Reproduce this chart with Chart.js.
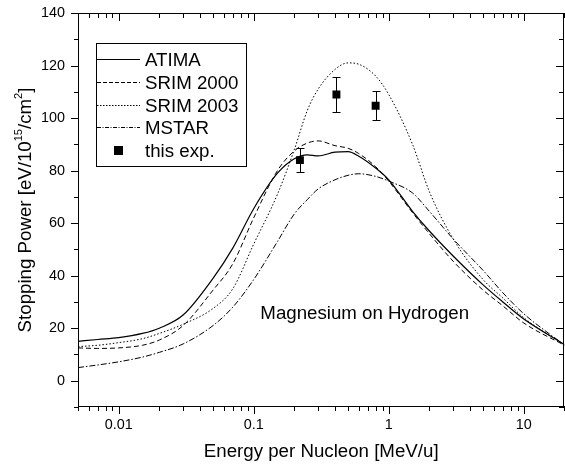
<!DOCTYPE html>
<html>
<head>
<meta charset="utf-8">
<script src="https://cdn.jsdelivr.net/npm/chart.js@4.4.1/dist/chart.umd.min.js"></script>
<style>
  html, body { margin: 0; padding: 0; background: #fff; overflow: hidden; }
  #wrap { width: 570px; height: 468px; }
</style>
</head>
<body>
<div id="wrap"><canvas id="chart" width="570" height="468"></canvas></div>
<script>
// energy grid [MeV/u] shared by the calculated curves
const energy   = [0.005, 0.007, 0.01, 0.015, 0.02, 0.03, 0.05, 0.07, 0.1, 0.15, 0.2, 0.25, 0.3, 0.4, 0.5, 0.6, 0.8, 1, 1.5, 2, 3, 5, 7, 10, 20];
const atima    = [15, 15.7, 16.4, 18, 20, 25, 39, 50.5, 65.5, 79, 84.5, 86, 85.6, 87, 87.2, 85.5, 81, 76.5, 64.5, 57, 47.5, 36.5, 30, 23.5, 13.8];
const srim2000 = [12.5, 12.3, 12.5, 13.5, 15.5, 21, 34.5, 44.5, 62, 80, 87.5, 90.5, 91.3, 89.5, 88.5, 86.5, 81.5, 76, 64, 56, 45.5, 34.5, 28.5, 22, 13.5];
const srim2003 = [13, 13.5, 14.5, 16, 18, 21.5, 27.5, 35, 52, 71, 88, 103, 111, 118.5, 121, 120.5, 116, 109, 90, 72, 54, 38.5, 31.5, 24, 13.6];
const mstar    = [5, 6, 7.2, 9, 10.8, 14, 21, 28, 38.5, 53, 63.5, 69, 73, 76.5, 78.2, 78.8, 77.8, 76, 71.5, 64.5, 54, 42, 33.5, 25.5, 13.6];

// measured points
const expEnergy = [0.22, 0.41, 0.8];
const expValue  = [84, 109, 104.7];
const expError  = [4.5, 6.5, 5.5];

const xTickLabels = [0.01, 0.1, 1, 10];
const yTickLabels = [0, 20, 40, 60, 80, 100, 120, 140];

const FONT = '"Liberation Sans", Arial, Helvetica, sans-serif';
const TEXT_SIZE = 18.7;
const toXY = (xs, ys) => xs.map((x, i) => ({x: x, y: ys[i]}));

const curve = (label, ys, dash, legendDash, width) => ({
  label: label,
  data: toXY(energy, ys),
  borderColor: '#000',
  borderWidth: width || 1,
  borderDash: dash,
  legendDash: legendDash,
  pointRadius: 0,
  fill: false,
  cubicInterpolationMode: 'monotone'
});

// frame + minor/major tick marks on all four sides (drawn as 1px rectangles)
const framePlugin = {
  id: 'frame',
  afterDraw(chart) {
    const {ctx, chartArea: a, scales: {x, y}} = chart;
    ctx.save();
    ctx.fillStyle = '#000';
    const L = Math.round(a.left), R = Math.round(a.right) - 1;
    const T = Math.round(a.top), B = Math.round(a.bottom) - 1;
    ctx.fillRect(L, T, R - L + 1, 1);
    ctx.fillRect(L, B, R - L + 1, 1);
    ctx.fillRect(L, T, 1, B - T + 1);
    ctx.fillRect(R, T, 1, B - T + 1);
    // x ticks
    for (let e = -3; e <= 2; e++) {
      for (let k = 1; k <= 9; k++) {
        const v = k * Math.pow(10, e);
        if (v < x.min * 0.999 || v > x.max * 1.001) continue;
        const px = Math.round(x.getPixelForValue(v));
        const len = k === 1 ? 7 : 4;
        ctx.fillRect(px, B, 1, len + 1);
        ctx.fillRect(px, T, 1, len + 1);
      }
    }
    // y ticks
    for (let v = y.min; v <= y.max; v += 10) {
      const py = Math.round(y.getPixelForValue(v));
      const len = yTickLabels.includes(v) ? 7 : 4;
      ctx.fillRect(L - len, py, len + 1, 1);
      ctx.fillRect(R - len, py, len + 1, 1);
    }
    ctx.restore();
  }
};

// error bars for the measured points
const errorBars = {
  id: 'errorBars',
  afterDatasetsDraw(chart) {
    const {ctx, scales: {x, y}} = chart;
    ctx.save();
    ctx.setLineDash([]);
    ctx.strokeStyle = '#000';
    ctx.lineWidth = 1;
    ctx.beginPath();
    expEnergy.forEach((e, i) => {
      const px = Math.round(x.getPixelForValue(e)) + 0.5;
      const top = Math.round(y.getPixelForValue(expValue[i] + expError[i])) + 0.5;
      const bot = Math.round(y.getPixelForValue(expValue[i] - expError[i])) + 0.5;
      ctx.moveTo(px, top); ctx.lineTo(px, bot);
      ctx.moveTo(px - 4, top); ctx.lineTo(px + 4, top);
      ctx.moveTo(px - 4, bot); ctx.lineTo(px + 4, bot);
    });
    ctx.stroke();
    ctx.restore();
  }
};

// boxed legend, y title with superscripts, and the in-plot label
const decorations = {
  id: 'decorations',
  afterDraw(chart) {
    const {ctx, scales: {x, y}} = chart;
    ctx.save();
    ctx.setLineDash([]);
    ctx.fillStyle = '#000';
    ctx.strokeStyle = '#000';

    // legend box
    ctx.fillRect(96, 43, 151, 1);
    ctx.fillRect(96, 166, 151, 1);
    ctx.fillRect(96, 43, 1, 124);
    ctx.fillRect(246, 43, 1, 124);
    ctx.font = TEXT_SIZE + 'px ' + FONT;
    ctx.textBaseline = 'middle';
    ctx.textAlign = 'left';
    chart.data.datasets.forEach((ds, i) => {
      const cy = Math.round(59 + i * 22.75) + 0.5;
      if (ds.showLine === false) {
        ctx.fillRect(114, cy - 4.5, 9, 9);
      } else {
        ctx.save();
        ctx.setLineDash(ds.legendDash || []);
        ctx.lineWidth = ds.borderWidth;
        ctx.beginPath();
        ctx.moveTo(97, cy); ctx.lineTo(140, cy);
        ctx.stroke();
        ctx.restore();
      }
      ctx.fillText(ds.label, 145, cy + 1);
    });

    // annotation
    ctx.fillText('Magnesium on Hydrogen', x.getPixelForValue(0.112), y.getPixelForValue(25.5));

    // y axis title, rotated
    ctx.translate(25, 210);
    ctx.rotate(-Math.PI / 2);
    const parts = [
      ['Stopping Power [eV/10', false], ['15', true], ['/cm', false], ['2', true], [']', false]
    ];
    const big = TEXT_SIZE + 'px ' + FONT, small = '11px ' + FONT;
    let total = 0;
    parts.forEach(p => { ctx.font = p[1] ? small : big; total += ctx.measureText(p[0]).width; });
    let cx = -total / 2;
    parts.forEach(p => {
      ctx.font = p[1] ? small : big;
      ctx.fillText(p[0], cx, p[1] ? -6 : 1);
      cx += ctx.measureText(p[0]).width;
    });
    ctx.restore();
  }
};

new Chart(document.getElementById('chart'), {
  type: 'line',
  data: {
    datasets: [
      curve('ATIMA', atima, [], [], 1.2),
      curve('SRIM 2000', srim2000, [5, 3], [4, 2]),
      curve('SRIM 2003', srim2003, [1.5, 2], [1.5, 1.5]),
      curve('MSTAR', mstar, [6, 2, 1.5, 2], [4, 1.5, 1, 1.5]),
      {
        label: 'this exp.',
        data: toXY(expEnergy, expValue),
        showLine: false,
        pointStyle: 'rect',
        pointRadius: 5.6,
        pointBackgroundColor: '#000',
        pointBorderColor: '#000',
        pointBorderWidth: 0
      }
    ]
  },
  options: {
    responsive: false,
    animation: false,
    devicePixelRatio: 1,
    layout: { padding: { top: 13, right: 3, left: 0, bottom: 0 } },
    plugins: { legend: { display: false }, tooltip: { enabled: false } },
    scales: {
      x: {
        type: 'logarithmic',
        position: 'bottom',
        min: 0.005,
        max: 20,
        afterFit: s => { s.height = 61; s.paddingLeft = 0; s.paddingRight = 0; },
        grid: { display: false, drawTicks: false },
        border: { display: false },
        ticks: {
          autoSkip: false,
          maxRotation: 0,
          padding: 9,
          color: '#000',
          font: { family: FONT, size: 14.4 },
          callback: v => xTickLabels.some(t => Math.abs(t - v) / t < 1e-6) ? String(+v.toPrecision(6)) : ''
        },
        title: {
          display: true,
          text: 'Energy per Nucleon [MeV/u]',
          color: '#000',
          font: { family: FONT, size: TEXT_SIZE },
          padding: { top: 0, bottom: 5 }
        }
      },
      y: {
        min: -10,
        max: 140,
        afterFit: s => { s.width = 78; s.paddingTop = 0; s.paddingBottom = 0; },
        grid: { display: false, drawTicks: false },
        border: { display: false },
        ticks: {
          stepSize: 10,
          padding: 13,
          color: '#000',
          font: { family: FONT, size: 14.4 },
          callback: v => yTickLabels.includes(v) ? String(v) : ''
        }
      }
    }
  },
  plugins: [framePlugin, errorBars, decorations]
});
</script>
</body>
</html>
